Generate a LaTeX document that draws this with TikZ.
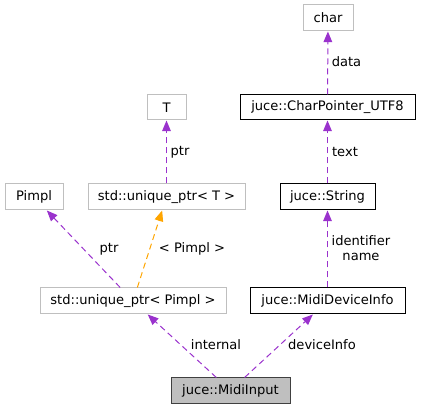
\documentclass[tikz,border=0pt]{standalone}
\usepackage{fontspec}
\setmainfont{DejaVu Sans}
\usepackage{tikz}
\usetikzlibrary{arrows.meta}
\definecolor{edgept}{HTML}{9A32CD}
\definecolor{edgetp}{HTML}{FFA500}
\definecolor{grayln}{HTML}{BFBFBF}
\definecolor{rootfl}{HTML}{BFBFBF}
\definecolor{rootln}{HTML}{404040}
\tikzset{
  cls/.style={draw=#1, fill=white, line width=0.75pt, inner sep=0pt,
    font=\fontsize{9.8}{11}\selectfont, text=black},
  cls/.default=black,
  rel/.style={-{Triangle[length=8pt,width=6.5pt]}, line width=0.75pt,
    dash pattern=on 4.5pt off 3pt, color=#1},
  rel/.default=edgept,
  lbl/.style={font=\fontsize{9.8}{11}\selectfont, align=center, inner sep=0pt},
}
\begin{document}
\begin{tikzpicture}[x=0.75pt,y=-0.75pt]
  \useasboundingbox (0,0) rectangle (421,409);
  % classes
  \node[cls=grayln, minimum width=37.5pt, minimum height=19.5pt] (chr) at (328,18) {char};
  \node[cls, minimum width=131.25pt, minimum height=18.75pt] (cptr) at (327.5,107.5) {juce::CharPointer\_UTF8};
  \node[cls=grayln, minimum width=29.25pt, minimum height=18.75pt] (tpar) at (166.5,107.5) {T};
  \node[cls=grayln, minimum width=43.5pt, minimum height=19.5pt] (pimpl) at (34,197) {Pimpl};
  \node[cls=grayln, minimum width=117.75pt, minimum height=19.5pt] (uptrt) at (166.5,197) {std::unique\_ptr< T >};
  \node[cls, minimum width=71.25pt, minimum height=19.5pt] (str) at (327.5,197) {juce::String};
  \node[cls=grayln, minimum width=139.5pt, minimum height=19.5pt] (uptrp) at (133,301) {std::unique\_ptr< Pimpl >};
  \node[cls, minimum width=116.25pt, minimum height=19.5pt] (devinfo) at (327.5,301) {juce::MidiDeviceInfo};
  \node[cls=rootln, fill=rootfl, minimum width=89.25pt, minimum height=18.75pt] (input) at (230.5,390.5) {juce::MidiInput};
  % relations
  \draw[rel] (cptr) -- (chr);
  \draw[rel] (str) -- (cptr);
  \draw[rel] (devinfo) -- (str);
  \draw[rel] (uptrt) -- (tpar);
  \draw[rel] (uptrp) -- (pimpl);
  \draw[rel=edgetp] (uptrp) -- (uptrt);
  \draw[rel] (input) -- (uptrp);
  \draw[rel] (input) -- (devinfo);
  % labels
  \node[lbl] (ldata) at (346.5,62) {data};
  \node[lbl] (ltext) at (345,152) {text};
  \node[lbl] (lname) at (361,248) {identifier\\name};
  \node[lbl] (lptrt) at (180,152) {ptr};
  \node[lbl] (lptrp) at (109,249) {ptr};
  \node[lbl] (ltmpl) at (192,249) {< Pimpl >};
  \node[lbl] (lint) at (216,345) {internal};
  \node[lbl] (ldev) at (322,345) {deviceInfo};
\end{tikzpicture}
\end{document}
